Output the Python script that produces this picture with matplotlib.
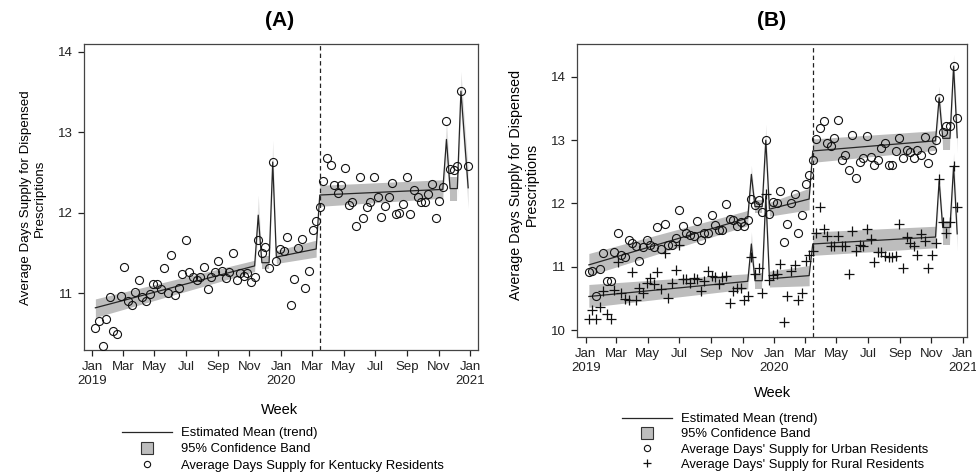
import numpy as np
import pandas as pd
import matplotlib
matplotlib.use("Agg")
import matplotlib.pyplot as plt
from matplotlib.lines import Line2D

plt.rcParams['font.family'] = ['Liberation Sans', 'DejaVu Sans']

# weekly observations, Jan 2019 - Dec 2020
weeks = pd.date_range("2019-01-07", periods=104, freq="7D")
break_week = weeks[62]
spike_weeks = [45, 49, 97, 101]

# (A) Kentucky residents
ky = [10.57, 10.65, 10.35, 10.68, 10.95, 10.53, 10.50, 10.97, 11.33, 10.91,
      10.85, 11.01, 11.16, 10.95, 10.90, 10.99, 11.11, 11.12, 11.05, 11.32,
      11.00, 11.48, 10.98, 11.07, 11.24, 11.66, 11.27, 11.20, 11.16, 11.20,
      11.33, 11.05, 11.20, 11.27, 11.40, 11.28, 11.19, 11.26, 11.50, 11.17,
      11.25, 11.21, 11.25, 11.14, 11.20, 11.66, 11.50, 11.58, 11.32, 12.63,
      11.40, 11.55, 11.52, 11.70, 10.85, 11.18, 11.56, 11.67, 11.07, 11.28,
      11.79, 11.90, 12.07, 12.40, 12.68, 12.59, 12.34, 12.25, 12.35, 12.55,
      12.10, 12.13, 11.83, 12.45, 11.93, 12.07, 12.13, 12.45, 12.19, 11.95,
      12.08, 12.19, 12.37, 11.99, 12.00, 12.11, 12.45, 11.98, 12.28, 12.20,
      12.13, 12.13, 12.23, 12.36, 11.94, 12.15, 12.32, 13.14, 12.54, 12.53,
      12.58, 13.51, np.nan, 12.58]

# (B) urban / rural residents
urban = [10.91, 10.94, 10.53, 10.97, 11.22, 10.78, 10.77, 11.24, 11.53, 11.18,
         11.16, 11.42, 11.37, 11.33, 11.09, 11.32, 11.42, 11.35, 11.32, 11.63,
         11.28, 11.67, 11.34, 11.34, 11.46, 11.90, 11.65, 11.53, 11.50, 11.49,
         11.73, 11.42, 11.54, 11.53, 11.82, 11.66, 11.58, 11.58, 11.99, 11.75,
         11.74, 11.64, 11.70, 11.65, 11.74, 12.07, 11.97, 12.05, 11.86, 13.00,
         11.84, 12.03, 12.00, 12.19, 11.39, 11.68, 12.01, 12.15, 11.53, 11.81,
         12.31, 12.45, 12.69, 13.02, 13.20, 13.31, 12.96, 12.91, 13.03, 13.32,
         12.69, 12.76, 12.53, 13.08, 12.41, 12.66, 12.72, 13.07, 12.74, 12.61,
         12.68, 12.88, 12.96, 12.61, 12.61, 12.83, 13.04, 12.72, 12.85, 12.81,
         12.72, 12.84, 12.77, 13.05, 12.64, 12.85, 13.01, 13.67, 13.13, 13.22,
         13.23, 14.17, 13.35, np.nan]
rural = [10.17, 10.32, 10.17, 10.36, 10.62, 10.26, 10.18, 10.63, 11.07, 10.59,
         10.49, 10.47, 10.91, 10.47, 10.67, 10.59, 10.74, 10.82, 10.73, 10.91,
         10.65, 11.21, 10.51, 10.75, 10.95, 11.34, 10.81, 10.81, 10.74, 10.83,
         10.81, 10.61, 10.77, 10.94, 10.86, 10.84, 10.72, 10.84, 10.86, 10.42,
         10.62, 10.66, 10.66, 10.47, 10.53, 11.15, 10.88, 10.98, 10.59, 12.15,
         10.79, 10.87, 10.89, 11.05, 10.13, 10.54, 10.94, 11.03, 10.47, 10.58,
         11.09, 11.19, 11.25, 11.54, 11.94, 11.59, 11.49, 11.33, 11.33, 11.49,
         11.33, 11.33, 10.89, 11.56, 11.25, 11.35, 11.33, 11.59, 11.44, 11.08,
         11.24, 11.24, 11.17, 11.16, 11.16, 11.17, 11.67, 10.98, 11.47, 11.38,
         11.33, 11.19, 11.51, 11.40, 10.98, 11.19, 11.37, 12.39, 11.70, 11.54,
         11.70, 12.59, 11.94, np.nan]

# fitted segmented trend (vertices) with 95% band
a_idx = [0, 44, 45, 46, 48, 49, 50, 61, 62, 96, 97, 98, 100, 101, 103]
a_mean = [10.82, 11.34, 11.97, 11.38, 11.38, 12.63, 11.45, 11.55, 12.22, 12.29, 12.91, 12.30, 12.30, 13.51, 12.31]
a_lo = [10.70, 11.27, 11.75, 11.30, 11.30, 12.40, 11.37, 11.45, 12.08, 12.18, 12.65, 12.15, 12.15, 13.25, 12.05]
a_hi = [10.93, 11.41, 12.22, 11.46, 11.46, 12.90, 11.53, 11.66, 12.34, 12.41, 13.15, 12.45, 12.45, 13.75, 12.55]

b_idx = [0, 44, 45, 46, 48, 49, 50, 61, 62, 96, 97, 98, 100, 101, 102]
u_mean = [11.03, 11.77, 12.46, 11.95, 11.95, 13.00, 11.91, 12.07, 12.83, 12.99, 13.67, 13.03, 13.03, 14.17, 13.04]
u_lo = [10.86, 11.65, 12.25, 11.85, 11.85, 12.75, 11.80, 11.90, 12.65, 12.84, 13.45, 12.85, 12.85, 13.95, 12.80]
u_hi = [11.21, 11.89, 12.60, 12.05, 12.05, 13.25, 12.02, 12.24, 13.02, 13.15, 13.85, 13.18, 13.18, 14.35, 13.30]
r_mean = [10.53, 10.77, 11.36, 10.78, 10.78, 12.12, 10.81, 10.86, 11.36, 11.47, 12.36, 11.62, 11.62, 12.59, 11.52]
r_lo = [10.36, 10.65, 11.15, 10.65, 10.65, 11.90, 10.68, 10.70, 11.18, 11.30, 12.15, 11.35, 11.35, 12.35, 11.25]
r_hi = [10.72, 10.89, 11.55, 10.90, 10.90, 12.35, 10.93, 11.02, 11.55, 11.64, 12.55, 11.72, 11.72, 12.80, 11.78]

tick_dates = pd.date_range("2019-01-01", "2021-01-01", freq="2MS")
tick_labels = ["Jan\n2019", "Mar", "May", "Jul", "Sep", "Nov",
               "Jan\n2020", "Mar", "May", "Jul", "Sep", "Nov", "Jan\n2021"]

ylab = "Average Days Supply for Dispensed\nPrescriptions"
band_col = "#bdbdbd"
line_col = "#262626"


def draw_trend(ax, idx, mean, lo, hi):
    x = weeks[idx]
    for k in range(len(idx) - 1):
        if idx[k] == 61 and idx[k + 1] == 62:
            continue
        spike = idx[k] in spike_weeks or idx[k + 1] in spike_weeks
        ax.fill_between(x[k:k + 2], lo[k:k + 2], hi[k:k + 2], color=band_col,
                        alpha=0.45 if spike else 1.0, lw=0)
    ax.plot(x, mean, color=line_col, lw=0.9, zorder=3)


def style(ax, ylim, yticks, xlim):
    ax.set_xlim(pd.Timestamp(xlim[0]), pd.Timestamp(xlim[1]))
    ax.set_ylim(*ylim)
    ax.set_yticks(yticks)
    ax.set_xticks(tick_dates)
    ax.set_xticklabels(tick_labels)
    ax.tick_params(direction="out", length=4.5, width=0.9, labelsize=9.5, pad=3.5, colors="#222")
    for s in ax.spines.values():
        s.set_color("#444")
        s.set_linewidth(0.9)
    ax.axvline(break_week, color="#222", lw=0.9, ls=(0, (3.5, 2.5)), zorder=2)


fig = plt.figure(figsize=(9.76, 4.75), dpi=100)

# ---- (A)
axA = fig.add_axes([84 / 976, 1 - 350 / 475, 394 / 976, 306 / 475])
draw_trend(axA, a_idx, a_mean, a_lo, a_hi)
axA.plot(weeks, ky, ls="none", marker="o", ms=5.8, mfc="none", mec="#111", mew=0.8, zorder=4)
style(axA, (10.296, 14.095), [11, 12, 13, 14], ("2018-12-16", "2021-01-16"))
axA.set_ylabel(ylab, fontsize=9.6)
axA.yaxis.set_label_coords(-0.098, 0.497)
axA.set_xlabel("Week", fontsize=10.5)
axA.xaxis.set_label_coords(0.497, -0.172)
fig.text(280 / 976, 1 - 20 / 475, "(A)", ha="center", va="center", fontsize=15, fontweight="bold")

hA = [Line2D([], [], color=line_col, lw=0.9),
      Line2D([], [], ls="none", marker="s", ms=8, mfc=band_col, mec="#333", mew=0.8),
      Line2D([], [], ls="none", marker="o", ms=4.5, mfc="none", mec="#111", mew=0.8)]
fig.legend(hA, ["Estimated Mean (trend)", "95% Confidence Band",
                "Average Days Supply for Kentucky Residents"],
           loc="upper left", bbox_to_anchor=(122 / 976, 1 - 427 / 475), frameon=False,
           fontsize=9.4, handlelength=3.8, handletextpad=0.75, labelspacing=0.32,
           borderpad=0, borderaxespad=0)

# ---- (B)
axB = fig.add_axes([577 / 976, 1 - 337 / 475, 390 / 976, 293 / 475])
draw_trend(axB, b_idx, u_mean, u_lo, u_hi)
draw_trend(axB, b_idx, r_mean, r_lo, r_hi)
axB.plot(weeks, urban, ls="none", marker="o", ms=5.8, mfc="none", mec="#111", mew=0.8, zorder=4)
axB.plot(weeks, rural, ls="none", marker="+", ms=6.5, mec="#111", mew=0.9, zorder=4)
style(axB, (9.89, 14.52), [10, 11, 12, 13, 14], ("2018-12-15", "2021-01-09"))
axB.set_ylabel(ylab, fontsize=10.3)
axB.yaxis.set_label_coords(-0.097, 0.519)
axB.set_xlabel("Week", fontsize=10.5)
axB.xaxis.set_label_coords(0.5, -0.167)
fig.text(772 / 976, 1 - 20 / 475, "(B)", ha="center", va="center", fontsize=15, fontweight="bold")

hB = hA[:2] + [Line2D([], [], ls="none", marker="o", ms=4.5, mfc="none", mec="#111", mew=0.8),
               Line2D([], [], ls="none", marker="+", ms=6, mec="#111", mew=0.9)]
fig.legend(hB, ["Estimated Mean (trend)", "95% Confidence Band",
                "Average Days' Supply for Urban Residents",
                "Average Days' Supply for Rural Residents"],
           loc="upper left", bbox_to_anchor=(622 / 976, 1 - 413 / 475), frameon=False,
           fontsize=9.4, handlelength=3.8, handletextpad=0.75, labelspacing=0.24,
           borderpad=0, borderaxespad=0)

fig.savefig("out.png", dpi=100)
